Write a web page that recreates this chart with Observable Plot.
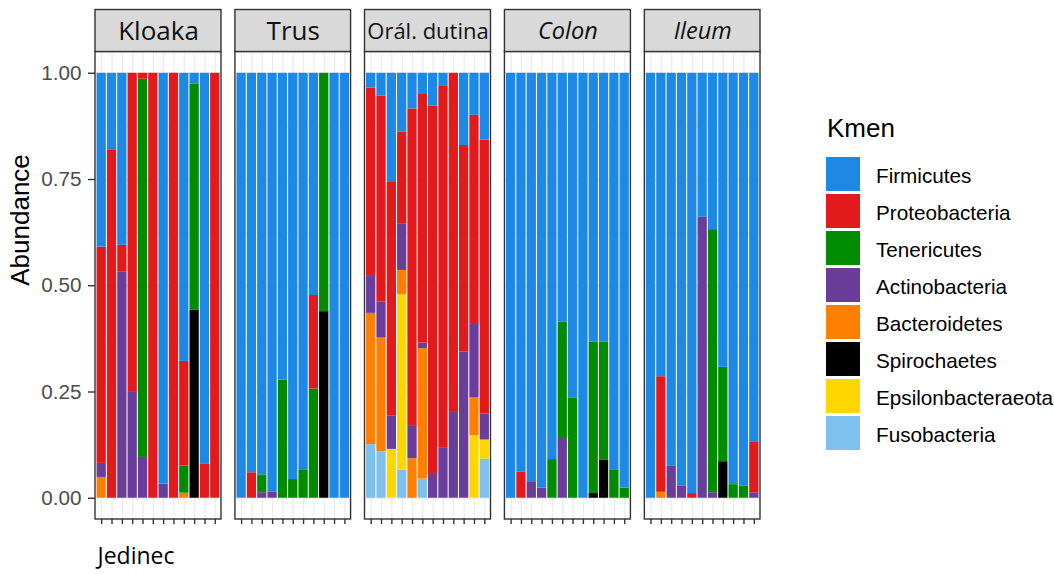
<!DOCTYPE html>
<html><head><meta charset="utf-8">
<script src="https://cdn.jsdelivr.net/npm/d3@7"></script>
<script src="https://cdn.jsdelivr.net/npm/@observablehq/plot@0.6"></script>
<style>
body{margin:0;background:#fff;}
#wrap{position:relative;width:1054px;height:574px;overflow:hidden;background:#fff}
#wrap svg{position:absolute;left:0;top:0;}
.lg{position:absolute;font-family:"Liberation Sans",Arial,sans-serif;color:#000;white-space:nowrap}
.lg-title{left:827px;top:115px;font-size:26px;line-height:26px}
.lg-key{position:absolute;left:826px;width:34px;height:34px}
.lg-lab{left:876px;font-size:20.7px;line-height:34px;padding-top:2px}
</style></head><body><div id="wrap"></div><script>
const phyla = ["Firmicutes","Proteobacteria","Tenericutes","Actinobacteria","Bacteroidetes","Spirochaetes","Epsilonbacteraeota","Fusobacteria"];
const colors = ["#1E88E5","#E31A1C","#008B00","#6A3D9A","#FF7F00","#000000","#FFD700","#7EC0EE"];
const sites = ["Kloaka","Trus","Orál. dutina","Colon","Ileum"];
const italicSites = ["Colon","Ileum"];
const stripFontSize = [26, 26, 22, 23.5, 23.5];
const yTicks = [0, 0.25, 0.5, 0.75, 1];
const legendTitle = "Kmen";
const xTitle = "Jedinec";
const yTitle = "Abundance";
// one row per individual (Jedinec); values in the order of `phyla`
const kloaka = [
  [0.409,0.509,0,0.033,0.049,0,0,0],
  [0.18,0.82,0,0,0,0,0,0],
  [0.405,0.062,0,0.533,0,0,0,0],
  [0,0.751,0,0.249,0,0,0,0],
  [0,0.014,0.890,0.096,0,0,0,0],
  [0,1,0,0,0,0,0,0],
  [0.967,0,0,0.033,0,0,0,0],
  [0,1,0,0,0,0,0,0],
  [0.678,0.246,0.064,0,0.012,0,0,0],
  [0.025,0,0.532,0,0,0.443,0,0],
  [0.919,0.081,0,0,0,0,0,0],
  [0,1,0,0,0,0,0,0]
];
const trus = [
  [1,0,0,0,0,0,0,0],
  [0.94,0.06,0,0,0,0,0,0],
  [0.945,0,0.042,0.013,0,0,0,0],
  [0.986,0,0,0.014,0,0,0,0],
  [0.722,0,0.278,0,0,0,0,0],
  [0.956,0,0.044,0,0,0,0,0],
  [0.933,0,0.067,0,0,0,0,0],
  [0.523,0.22,0.257,0,0,0,0,0],
  [0,0,0.561,0,0,0.439,0,0],
  [1,0,0,0,0,0,0,0],
  [1,0,0,0,0,0,0,0]
];
const oral = [
  [0.035,0.443,0,0.087,0.309,0,0,0.126],
  [0.054,0.484,0,0.085,0.268,0,0,0.109],
  [0.257,0.549,0,0.079,0,0,0.115,0],
  [0.138,0.216,0,0.11,0.057,0,0.413,0.066],
  [0.084,0.747,0,0.076,0.093,0,0,0],
  [0.048,0.587,0,0.013,0.307,0,0,0.045],
  [0.077,0.867,0,0.056,0,0,0,0],
  [0.031,0.85,0,0.119,0,0,0,0],
  [0,0.796,0,0.204,0,0,0,0],
  [0.17,0.486,0,0.344,0,0,0,0],
  [0.099,0.492,0,0.173,0.089,0,0.147,0],
  [0.157,0.645,0,0.061,0,0,0.045,0.092]
];
const colon = [
  [1,0,0,0,0,0,0,0],
  [0.938,0.062,0,0,0,0,0,0],
  [0.961,0,0,0.039,0,0,0,0],
  [0.976,0,0,0.024,0,0,0,0],
  [0.909,0,0.091,0,0,0,0,0],
  [0.585,0,0.272,0.143,0,0,0,0],
  [0.765,0,0.235,0,0,0,0,0],
  [1,0,0,0,0,0,0,0],
  [0.633,0,0.356,0,0,0.011,0,0],
  [0.633,0,0.278,0,0,0.089,0,0],
  [0.933,0,0.067,0,0,0,0,0],
  [0.976,0,0.024,0,0,0,0,0]
];
const ileum = [
  [1,0,0,0,0,0,0,0],
  [0.714,0.272,0,0,0.014,0,0,0],
  [0.925,0,0,0.075,0,0,0,0],
  [0.972,0,0,0.028,0,0,0,0],
  [0.989,0.011,0,0,0,0,0,0],
  [0.339,0,0,0.661,0,0,0,0],
  [0.368,0,0.619,0.013,0,0,0,0],
  [0.692,0,0.222,0,0,0.086,0,0],
  [0.968,0,0.032,0,0,0,0,0],
  [0.972,0,0.028,0,0,0,0,0],
  [0.867,0.12,0,0.013,0,0,0,0]
];
const siteData = [kloaka, trus, oral, colon, ileum];

// layout in x units (one unit per individual), like discrete facets with free x
const EXPAND = 0.6, GAP = 1.35, BARW = 0.9;
let off = 0;
const panels = sites.map((s, k) => {
  const n = siteData[k].length;
  const p = {site: s, k, n, x1: off, x2: off + n - 1 + 2 * EXPAND, fs: stripFontSize[k], italic: italicSites.includes(s)};
  p.cx = (p.x1 + p.x2) / 2;
  off = p.x2 + GAP;
  return p;
});
const total = panels[panels.length - 1].x2;

const centers = [];
const bars = [];
panels.forEach(p => {
  siteData[p.k].forEach((row, i) => {
    const c = p.x1 + EXPAND + i;
    centers.push({x: c});
    let y = 0;
    for (let j = phyla.length - 1; j >= 0; j--) {
      const v = row[j];
      if (v > 0) bars.push({x1: c - BARW / 2, x2: c + BARW / 2, y1: y, y2: y + v, phylum: phyla[j]});
      y += v;
    }
  });
});
const yLo = -0.05, yHi = 1.05;
const major = [], minor = [];
panels.forEach(p => {
  yTicks.forEach(t => major.push({x1: p.x1, x2: p.x2, y: t}));
  for (let t = -0.125; t <= 1.125; t += 0.25) if (t > yLo && t < yHi) minor.push({x1: p.x1, x2: p.x2, y: t});
});

const SANS = "'Liberation Sans', Arial, sans-serif";
const STRIP = "'Open Sans', sans-serif";
const chart = Plot.plot({
  width: 1054, height: 574,
  marginLeft: 95, marginRight: 294, marginTop: 51.5, marginBottom: 55,
  x: {domain: [0, total]},
  y: {domain: [yLo, yHi]},
  color: {domain: phyla, range: colors},
  style: {fontFamily: SANS, background: "white", overflow: "visible"},
  marks: [
    Plot.rect(panels, {x1: "x1", x2: "x2", y1: yLo, y2: yHi, fill: "white"}),
    Plot.ruleY(minor, {x1: "x1", x2: "x2", y: "y", stroke: "#EBEBEB", strokeWidth: 0.6}),
    Plot.ruleY(major, {x1: "x1", x2: "x2", y: "y", stroke: "#EBEBEB", strokeWidth: 1.2}),
    Plot.ruleX(centers, {x: "x", y1: yLo, y2: yHi, stroke: "#EBEBEB", strokeWidth: 1.2}),
    Plot.rect(bars, {x1: "x1", x2: "x2", y1: "y1", y2: "y2", fill: "phylum"}),
    Plot.rect(panels, {x1: "x1", x2: "x2", y1: yLo, y2: yHi, fill: "none", stroke: "#333333", strokeWidth: 1.4}),
    Plot.rect(panels, {x1: "x1", x2: "x2", y1: yHi, y2: yHi, insetTop: -42, fill: "#D9D9D9", stroke: "#333333", strokeWidth: 1.4}),
    Plot.text(panels.filter(d => !d.italic), {x: "cx", y: yHi, dy: -20, text: "site", fontSize: "fs", fill: "#111", fontFamily: STRIP}),
    Plot.text(panels.filter(d => d.italic), {x: "cx", y: yHi, dy: -21, text: "site", fontSize: "fs", fill: "#111", fontStyle: "italic", fontFamily: STRIP}),
    Plot.axisY({ticks: yTicks, tickFormat: d3.format(".2f"), tickSize: 7, tickPadding: 7, fontSize: 20.7, fontFamily: SANS, fill: "#4D4D4D", stroke: "#333333", strokeWidth: 1.4, label: null}),
    Plot.axisX(centers.map(d => d.x), {tickSize: 5, tickFormat: () => "", stroke: "#333333", strokeWidth: 1.4, label: null}),
    Plot.text([yTitle], {frameAnchor: "left", rotate: -90, dx: -75, fontSize: 26, fill: "black", fontFamily: SANS}),
    Plot.text([xTitle], {frameAnchor: "bottom-left", textAnchor: "start", dx: 2, dy: 44, fontSize: 23, fill: "black", fontFamily: STRIP})
  ]
});
const wrap = document.getElementById("wrap");
wrap.appendChild(chart);

// legend
const t = document.createElement("div");
t.className = "lg lg-title"; t.textContent = legendTitle; wrap.appendChild(t);
phyla.forEach((ph, i) => {
  const top = 157 + 37 * i;
  const k = document.createElement("div");
  k.className = "lg-key"; k.style.top = top + "px"; k.style.background = colors[i];
  wrap.appendChild(k);
  const l = document.createElement("div");
  l.className = "lg lg-lab"; l.style.top = top + "px"; l.textContent = ph;
  wrap.appendChild(l);
});
</script></body></html>
